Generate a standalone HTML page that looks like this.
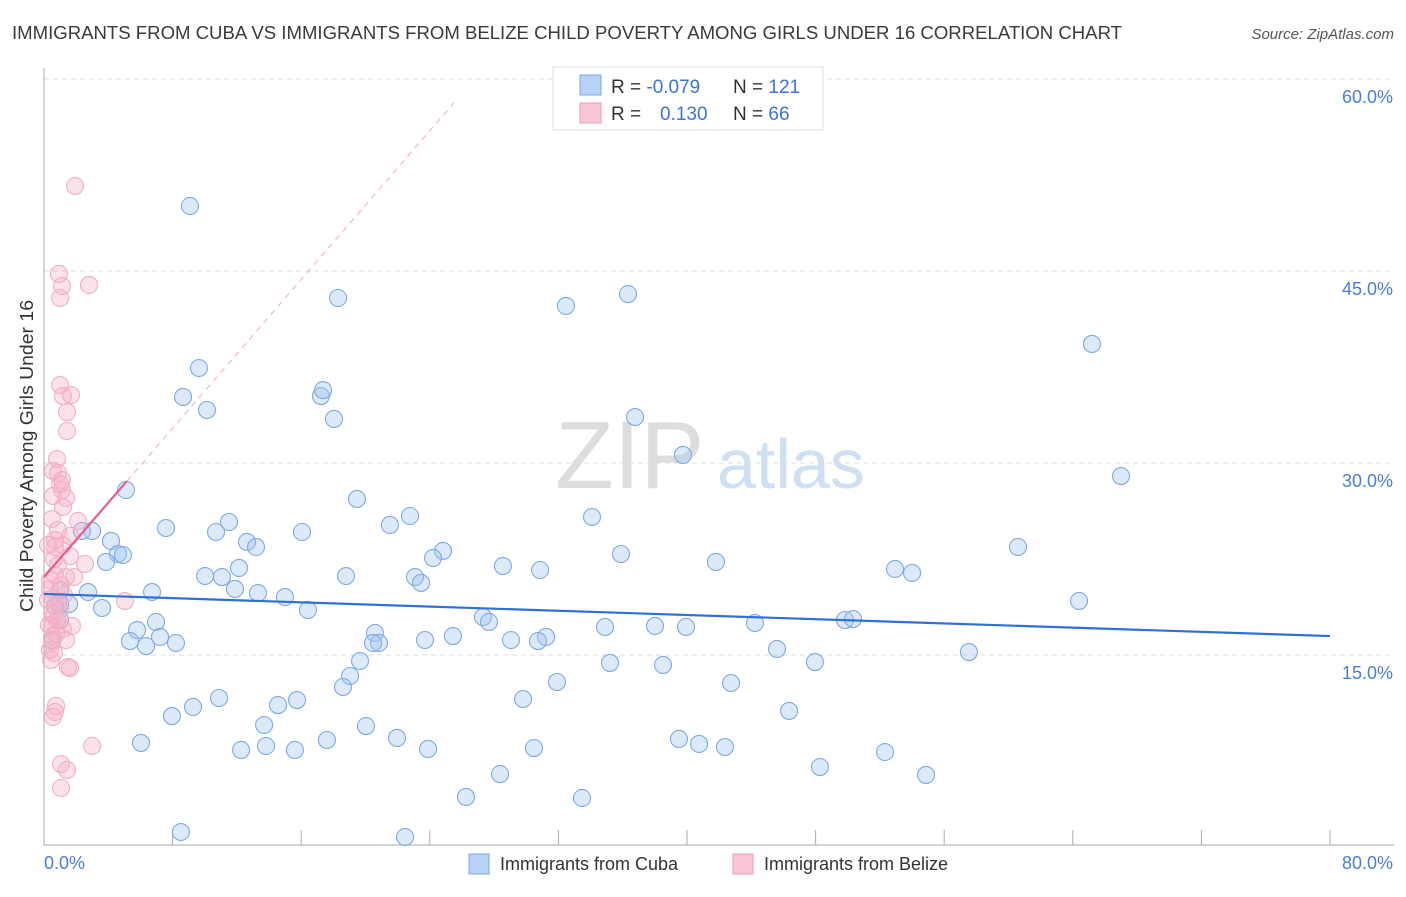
<!DOCTYPE html>
<html><head><meta charset="utf-8"><style>
body{margin:0;background:#fff;font-family:"Liberation Sans",sans-serif;}
svg text{font-family:"Liberation Sans",sans-serif;}
</style></head><body>
<svg id="chart" width="1406" height="892" xmlns="http://www.w3.org/2000/svg">
<text x="12" y="39" font-size="18" fill="#3a3a3a" textLength="1110" lengthAdjust="spacingAndGlyphs">IMMIGRANTS FROM CUBA VS IMMIGRANTS FROM BELIZE CHILD POVERTY AMONG GIRLS UNDER 16 CORRELATION CHART</text>
<text x="1394" y="39" font-size="15" fill="#555" text-anchor="end" font-style="italic">Source: ZipAtlas.com</text>
<text x="555" y="488" font-size="96" fill="#ddd" font-family="Liberation Serif">ZIP</text>
<text x="717" y="488" font-size="70" fill="#cfe0f4">atlas</text>
<g id="grid"></g><g id="axes"></g><g id="pts"></g><g id="trend"></g>
<text transform="translate(33,456) rotate(-90)" font-size="18" fill="#333" text-anchor="middle" textLength="312" lengthAdjust="spacingAndGlyphs">Child Poverty Among Girls Under 16</text>
<text x="44" y="869" font-size="18" fill="#4a7fd6">0.0%</text>
<text x="1393" y="869" font-size="18" fill="#4a7fd6" text-anchor="end">80.0%</text>
<g>
<rect x="553" y="67" width="270" height="63" fill="#fff" stroke="#ddd"/>
<rect x="580" y="75" width="21" height="20" fill="#b8d2f5" stroke="#7aa8e6"/>
<rect x="580" y="103" width="21" height="20" fill="#f9c6d5" stroke="#ee9ab4"/>
<text x="611" y="93" font-size="19" fill="#333">R = <tspan fill="#3b74d4">-0.079</tspan></text>
<text x="733" y="93" font-size="19" fill="#333">N = <tspan fill="#3b74d4">121</tspan></text>
<text x="611" y="120" font-size="19" fill="#333">R = </text><text x="660" y="120" font-size="19" fill="#3b74d4">0.130</text>
<text x="733" y="120" font-size="19" fill="#333">N = <tspan fill="#3b74d4"> 66</tspan></text>
</g>
<g>
<rect x="469" y="854" width="20" height="20" fill="#b8d2f5" stroke="#7aa8e6"/>
<text x="500" y="870" font-size="18" fill="#333">Immigrants from Cuba</text>
<rect x="733" y="854" width="20" height="20" fill="#f9c6d5" stroke="#ee9ab4"/>
<text x="764" y="870" font-size="18" fill="#333">Immigrants from Belize</text>
</g>
</svg>
<script>
const yTicks=[15,30,45,60];
const yTickLabels=["15.0%","30.0%","45.0%","60.0%"];
const xTicks=[0,8,16,24,32,40,48,56,64,72,80];
const cubaX=[9.08,18.29,32.47,36.33,65.19,9.64,8.65,10.14,17.23,17.36,18.04,36.77,39.75,67.0,5.10,19.47,7.59,11.51,10.70,21.52,22.77,16.05,34.09,2.99,2.36,4.17,12.63,13.19,4.60,4.91,3.86,24.82,24.20,35.89,41.80,60.59,28.55,30.86,52.94,54.00,12.13,10.02,11.07,18.79,23.08,23.45,11.88,13.31,14.99,6.72,2.74,1.56,1.00,3.61,16.42,64.39,27.31,27.68,34.90,38.01,39.94,44.23,49.83,50.33,6.97,5.79,5.35,7.22,6.35,8.21,20.59,20.84,20.47,23.70,25.44,29.05,31.23,30.73,19.66,35.21,38.51,45.60,47.96,57.54,19.04,18.60,31.91,42.74,10.89,15.74,14.56,29.80,13.69,20.03,46.35,9.27,7.96,6.03,12.26,13.81,15.61,17.60,21.96,23.89,30.48,39.50,40.75,42.36,52.32,28.37,48.27,54.87,26.25,33.47,8.52,22.46,1.00,0.68,1.00,0.50];
const cubaY=[50.08,42.89,42.27,43.20,39.30,37.42,35.16,34.14,35.23,35.70,33.44,33.59,30.63,28.98,27.89,27.19,24.92,25.39,24.61,25.16,25.86,24.61,25.78,24.69,24.69,23.91,23.83,23.44,22.89,22.81,22.27,23.13,22.58,22.89,22.27,23.44,21.95,21.64,21.72,21.41,21.80,21.17,21.09,21.17,21.09,20.63,20.16,19.84,19.53,19.92,19.92,18.98,18.98,18.67,18.52,19.22,17.97,17.58,17.19,17.27,17.19,17.50,17.73,17.81,17.58,16.95,16.09,16.41,15.70,15.94,16.72,15.94,15.94,16.17,16.48,16.17,16.41,16.09,14.53,14.38,14.22,15.47,14.45,15.23,13.36,12.50,12.89,12.81,11.64,11.48,11.09,11.56,9.53,9.45,10.63,10.94,10.23,8.13,7.58,7.89,7.58,8.36,8.52,7.66,7.73,8.44,8.05,7.81,7.42,5.70,6.25,5.63,3.91,3.83,1.17,0.78,20.08,18.83,17.73,16.17];
const belizeX=[1.93,0.93,1.12,1.00,2.80,1.00,1.68,1.18,1.43,1.43,0.81,0.87,0.56,1.00,1.12,1.37,1.18,0.56,0.50,2.12,0.87,1.18,0.68,1.62,0.62,2.55,1.87,0.68,0.37,1.06,5.04,0.56,1.00,0.62,0.50,1.18,1.74,0.75,1.37,0.50,0.37,0.62,1.49,1.62,0.75,0.68,0.56,2.99,1.06,1.43,1.06,0.37,0.25,0.81,0.44,0.31,0.87,1.12,0.68,1.37,0.87,0.50,1.24,1.62,0.25,0.50];
const belizeY=[51.64,44.77,43.83,42.89,43.91,36.09,35.31,35.23,33.98,32.50,30.31,29.22,29.38,28.36,28.67,27.27,26.56,27.42,25.63,25.47,24.77,23.59,23.44,22.73,22.50,22.11,21.09,21.25,20.16,20.47,19.22,19.45,18.52,18.13,17.27,17.03,17.27,16.64,16.17,16.02,15.39,15.16,14.06,13.98,11.02,10.55,10.16,7.89,6.48,6.02,4.61,20.86,19.30,17.73,14.61,17.34,22.03,27.89,23.98,21.09,19.06,18.28,19.69,24.30,23.59,16.48];
const cubaTrend=[19.77,16.48];
const belizeTrend=[21.09,1.453];
const NS="http://www.w3.org/2000/svg";
const X=v=>44+v*1286/80, Y=v=>847-v*12.8;
function mk(tag,attrs,parent){const e=document.createElementNS(NS,tag);for(const k in attrs)e.setAttribute(k,attrs[k]);document.getElementById(parent).appendChild(e);return e;}
yTicks.forEach((t,i)=>{
 const l=mk('line',{x1:44,x2:1394,y1:Y(t),y2:Y(t),stroke:'#ddd','stroke-dasharray':'5,4'},'grid');
 
 
 const tx=mk('text',{x:1393,y:Y(t)+24,'font-size':18,fill:'#4a7fd6','text-anchor':'end'},'grid');
 tx.textContent=yTickLabels[i];
 
 
});
const ax=mk('line',{x1:44,x2:44,y1:68,y2:845,stroke:'#aaa'},'axes');


const bx=mk('line',{x1:44,x2:1394,y1:845,y2:845,stroke:'#aaa'},'axes');


xTicks.forEach(t=>{
 const l=mk('line',{x1:X(t),x2:X(t),y1:830,y2:845,stroke:'#aaa'},'axes');
 
 
});
cubaX.forEach((v,i)=>{
 const c=mk('circle',{cx:X(v),cy:Y(cubaY[i]),r:8.5,fill:'rgba(160,196,240,0.38)',stroke:'#7eaae4','stroke-width':1.1},'pts');
 
 
});
belizeX.forEach((v,i)=>{
 const c=mk('circle',{cx:X(v),cy:Y(belizeY[i]),r:8.5,fill:'rgba(246,176,198,0.36)',stroke:'#f2aec2','stroke-width':1.1},'pts');
 
 
});
const ct=mk('line',{x1:X(0),y1:Y(cubaTrend[0]),x2:X(80),y2:Y(cubaTrend[1]),stroke:'#2f6fd6','stroke-width':2.2},'trend');


const bd=mk('line',{x1:X(5.16),y1:Y(belizeTrend[0]+belizeTrend[1]*5.16),x2:X(25.5),y2:Y(belizeTrend[0]+belizeTrend[1]*25.5),stroke:'#eeaabd','stroke-width':1,'stroke-dasharray':'6,5'},'trend');


const bt=mk('line',{x1:X(0),y1:Y(belizeTrend[0]),x2:X(5.16),y2:Y(belizeTrend[0]+belizeTrend[1]*5.16),stroke:'#e4608a','stroke-width':2.2},'trend');


</script>
</body></html>
